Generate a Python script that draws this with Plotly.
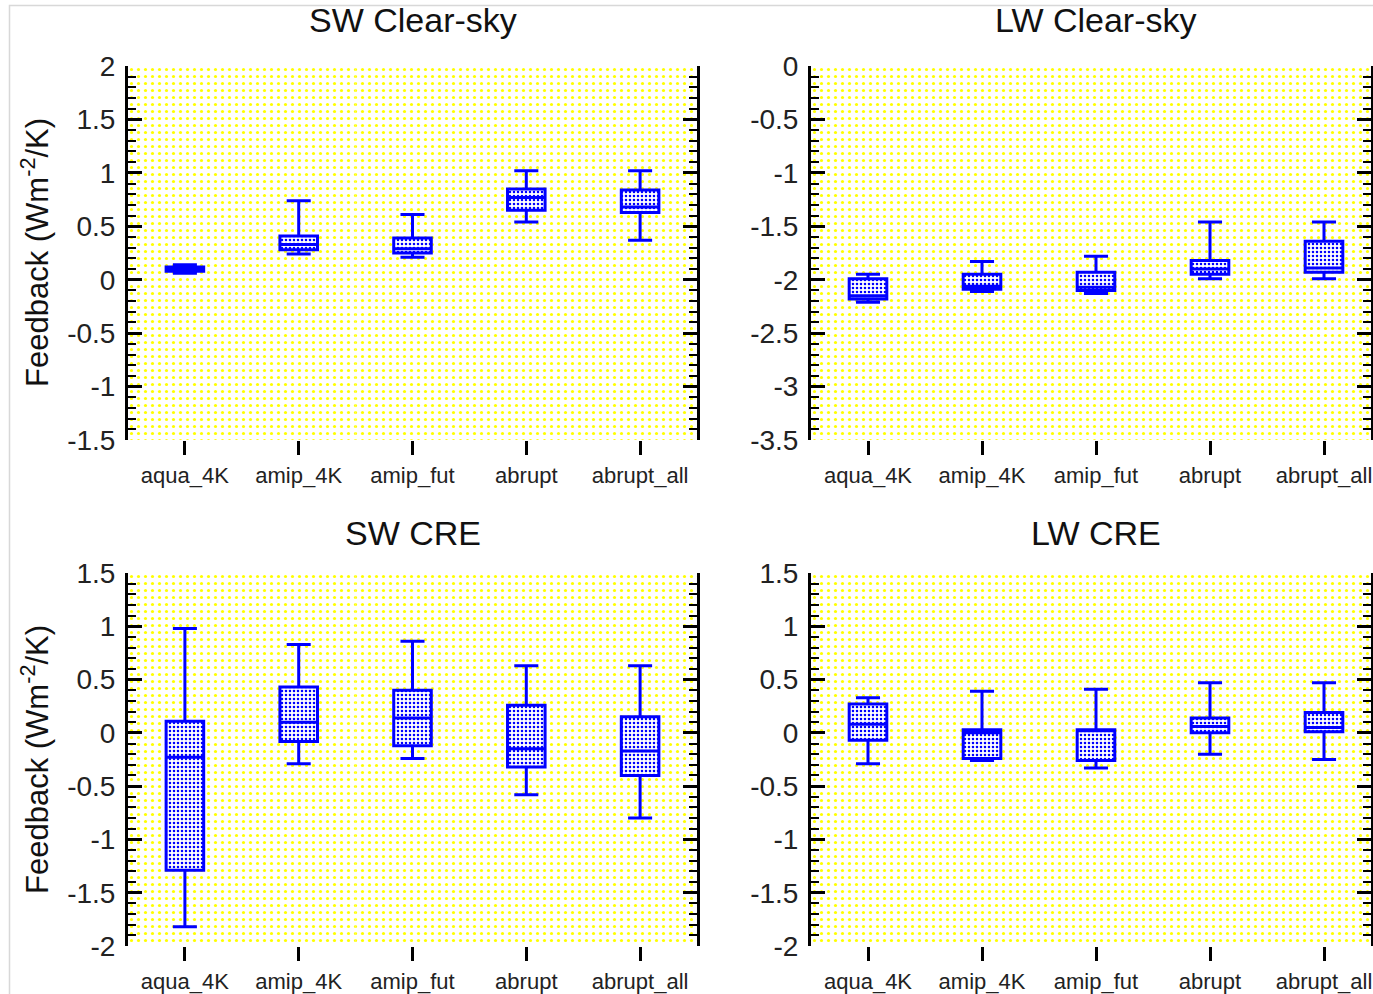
import plotly.graph_objects as go

W, H = 1373, 994

categories = ["aqua_4K", "amip_4K", "amip_fut", "abrupt", "abrupt_all"]

panel_titles = ["SW Clear-sky", "LW Clear-sky", "SW CRE", "LW CRE"]

# box statistics per panel: lower whisker, q1, median, q3, upper whisker
sw_clr_low = [0.06, 0.24, 0.21, 0.54, 0.37]
sw_clr_q1 = [0.08, 0.28, 0.25, 0.65, 0.63]
sw_clr_med = [0.10, 0.33, 0.29, 0.77, 0.68]
sw_clr_q3 = [0.12, 0.41, 0.39, 0.85, 0.84]
sw_clr_high = [0.14, 0.74, 0.61, 1.02, 1.02]

lw_clr_low = [-2.21, -2.11, -2.13, -1.99, -1.99]
lw_clr_q1 = [-2.18, -2.09, -2.10, -1.95, -1.93]
lw_clr_med = [-2.15, -2.06, -2.07, -1.90, -1.89]
lw_clr_q3 = [-1.99, -1.95, -1.93, -1.82, -1.64]
lw_clr_high = [-1.95, -1.83, -1.78, -1.46, -1.46]

sw_cre_low = [-1.82, -0.29, -0.24, -0.58, -0.80]
sw_cre_q1 = [-1.29, -0.08, -0.12, -0.32, -0.40]
sw_cre_med = [-0.23, 0.10, 0.14, -0.15, -0.17]
sw_cre_q3 = [0.11, 0.43, 0.40, 0.26, 0.15]
sw_cre_high = [0.98, 0.83, 0.86, 0.63, 0.63]

lw_cre_low = [-0.29, -0.26, -0.33, -0.20, -0.25]
lw_cre_q1 = [-0.07, -0.24, -0.26, 0.00, 0.01]
lw_cre_med = [0.08, 0.00, 0.02, 0.06, 0.05]
lw_cre_q3 = [0.27, 0.03, 0.03, 0.14, 0.19]
lw_cre_high = [0.33, 0.39, 0.41, 0.47, 0.47]

# y axis ranges and tick labels
y_range_sw_clr = [-1.5, 2.0]
y_range_lw_clr = [-3.5, 0.0]
y_range_sw_cre = [-2.0, 1.5]
y_range_lw_cre = [-2.0, 1.5]

yticks_sw_clr = [-1.5, -1.0, -0.5, 0.0, 0.5, 1.0, 1.5, 2.0]
yticktext_sw_clr = ["-1.5", "-1", "-0.5", "0", "0.5", "1", "1.5", "2"]
yticks_lw_clr = [-3.5, -3.0, -2.5, -2.0, -1.5, -1.0, -0.5, 0.0]
yticktext_lw_clr = ["-3.5", "-3", "-2.5", "-2", "-1.5", "-1", "-0.5", "0"]
yticks_cre = [-2.0, -1.5, -1.0, -0.5, 0.0, 0.5, 1.0, 1.5]
yticktext_cre = ["-2", "-1.5", "-1", "-0.5", "0", "0.5", "1", "1.5"]

panels = [
    (sw_clr_low, sw_clr_q1, sw_clr_med, sw_clr_q3, sw_clr_high, y_range_sw_clr, yticks_sw_clr, yticktext_sw_clr),
    (lw_clr_low, lw_clr_q1, lw_clr_med, lw_clr_q3, lw_clr_high, y_range_lw_clr, yticks_lw_clr, yticktext_lw_clr),
    (sw_cre_low, sw_cre_q1, sw_cre_med, sw_cre_q3, sw_cre_high, y_range_sw_cre, yticks_cre, yticktext_cre),
    (lw_cre_low, lw_cre_q1, lw_cre_med, lw_cre_q3, lw_cre_high, y_range_lw_cre, yticks_cre, yticktext_cre),
]

# layout geometry in pixels (page coordinates)
x_dom_px = [(128, 697), (811, 1371), (128, 697), (811, 1371)]
y_dom_px = [(66, 440), (66, 440), (573, 946), (573, 946)]
x_ranges = [[-0.5, 4.5], [-0.5, 4.5 - (1381 - 1371) / 114.0], [-0.5, 4.5], [-0.5, 4.5 - (1381 - 1371) / 114.0]]

FONT = "Liberation Sans, Arial, Helvetica, sans-serif"
BLUE = "#0000ff"

fig = go.Figure()
layout = dict(
    width=W, height=H,
    margin=dict(l=0, r=0, t=0, b=0, pad=0, autoexpand=False),
    paper_bgcolor="white",
    plot_bgcolor="white",
    barmode="overlay",
    boxmode="overlay",
    showlegend=False,
    font=dict(family=FONT, color="#222222"),
    annotations=[],
    shapes=[],
)

for i, (low, q1, med, q3, high, yr, ytv, ytt) in enumerate(panels):
    n = i + 1
    xa = "x" if n == 1 else f"x{n}"
    ya = "y" if n == 1 else f"y{n}"
    # patterned (dotted yellow) background
    fig.add_trace(go.Bar(
        x=categories, y=[yr[1] - yr[0]] * len(categories), base=[yr[0]] * len(categories),
        width=1.0, xaxis=xa, yaxis=ya, hoverinfo="skip",
        marker=dict(color="white", line=dict(width=0),
                    pattern=dict(shape=".", fgcolor="#ffff00", bgcolor="white",
                                 size=7, solidity=0.16, fillmode="replace")),
    ))
    # dotted box fill
    fig.add_trace(go.Bar(
        x=categories, y=[b - a for a, b in zip(q1, q3)], base=q1,
        width=0.33, xaxis=xa, yaxis=ya, hoverinfo="skip",
        marker=dict(color="white", line=dict(width=0),
                    pattern=dict(shape=".", fgcolor=BLUE, bgcolor="white",
                                 size=4, solidity=0.32, fillmode="replace")),
    ))
    # box outlines, medians and whiskers
    fig.add_trace(go.Box(
        x=categories, q1=q1, median=med, q3=q3, lowerfence=low, upperfence=high,
        xaxis=xa, yaxis=ya, width=0.33, whiskerwidth=0.64,
        fillcolor="rgba(0,0,0,0)", line=dict(color=BLUE, width=3),
        boxpoints=False,
    ))

    xd = [x_dom_px[i][0] / W, x_dom_px[i][1] / W]
    yd = [1 - y_dom_px[i][1] / H, 1 - y_dom_px[i][0] / H]
    xkey = "xaxis" if n == 1 else f"xaxis{n}"
    ykey = "yaxis" if n == 1 else f"yaxis{n}"
    layout[xkey] = dict(
        domain=xd, anchor=ya, range=x_ranges[i], type="category",
        categoryorder="array", categoryarray=categories,
        showline=False, showgrid=False, zeroline=False, automargin=False,
        ticks="outside", ticklen=14, tickwidth=3, tickcolor="black",
        tickfont=dict(size=22, family=FONT, color="#222222"),
        ticklabelstandoff=2,
    )
    layout[ykey] = dict(
        domain=yd, anchor=xa, range=yr, automargin=False,
        tickmode="array", tickvals=ytv, ticktext=ytt,
        showline=True, linewidth=3, linecolor="black", mirror="ticks",
        showgrid=False, zeroline=False,
        ticks="inside", ticklen=14, tickwidth=3, tickcolor="black",
        tickfont=dict(size=28, family=FONT, color="#222222"),
        ticklabelstandoff=4,
        minor=dict(ticks="inside", ticklen=8, tickwidth=2, tickcolor="black",
                   tickmode="linear", tick0=0, dtick=0.1, showgrid=False),
    )
    # panel title
    layout["annotations"].append(dict(
        text=panel_titles[i], xref="paper", yref="paper",
        x=(x_dom_px[i][0] + x_dom_px[i][0] + 569) / 2 / W, y=1 - (20 if i < 2 else 533) / H,
        xanchor="center", yanchor="middle", showarrow=False,
        font=dict(size=34, family=FONT, color="#111111"),
    ))

# y axis titles on left panels
for yc in [253, 760]:
    layout["annotations"].append(dict(
        text="Feedback (Wm<sup>-2</sup>/K)", xref="paper", yref="paper",
        x=35 / W, y=1 - yc / H, xanchor="center", yanchor="middle",
        textangle=-90, showarrow=False,
        font=dict(size=31, family=FONT, color="#111111"),
    ))

# thin light border around the image
layout["shapes"].append(dict(
    type="rect", xref="paper", yref="paper",
    x0=9.5 / W, x1=1.05, y0=-0.05, y1=1 - 5.5 / H,
    line=dict(color="#d8d8d8", width=1.5), layer="below",
))

fig.update_layout(**layout)
fig.write_html("out.html", config={"displayModeBar": False},
               post_script="document.body.style.margin='0px';")
